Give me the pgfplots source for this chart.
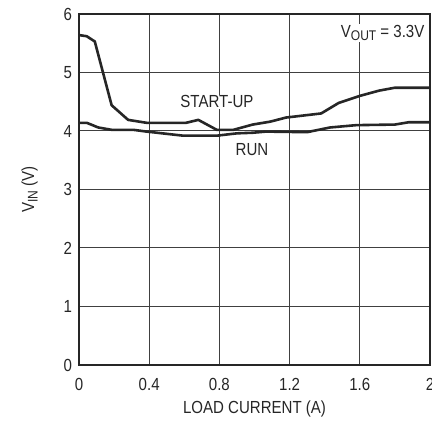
\documentclass[border=0pt]{standalone}
\usepackage{pgfplots}
\pgfplotsset{compat=1.18}
\usepackage{fontspec}
\setmainfont{Liberation Sans}[FakeStretch=0.86]
\newcommand{\fs}{\fontsize{17.5pt}{20pt}\selectfont}
\newcommand{\sub}[1]{\raisebox{-3.5pt}{\fontsize{14pt}{16pt}\selectfont #1}}
\begin{document}
\fs
\begin{tikzpicture}[x=1pt,y=1pt]
\begin{axis}[
  at={(0pt,0pt)}, anchor=south west,
  scale only axis, width=351pt, height=351pt,
  xmin=0, xmax=2, ymin=0, ymax=6,
  xtick={0,0.4,0.8,1.2,1.6,2}, ytick={0,1,2,3,4,5,6},
  xticklabels={0,0.4,0.8,1.2,1.6,2},
  yticklabels={0,1,2,3,4,5,6},
  grid=major,
  major grid style={line width=1pt, black!75},
  axis line style={line width=1.6pt, black!85},
  tick style={draw=none},
  tick label style={font=\fs, text=black!85},
  xticklabel style={yshift=-7pt},
  yticklabel style={xshift=-1pt},
  label style={font=\fs, text=black!85},
  xlabel={LOAD CURRENT (A)},
  ylabel={V\sub{IN} (V)},
  xlabel style={yshift=1pt},
  ylabel style={yshift=14pt},
  clip=false,
]
\addplot[line width=2.6pt, black!85, line join=round] coordinates {
 (0,5.64) (0.044,5.62) (0.09,5.53) (0.186,4.44) (0.28,4.19) (0.385,4.14)
 (0.61,4.14) (0.68,4.19) (0.785,4.02) (0.88,4.02) (0.99,4.11) (1.09,4.16)
 (1.18,4.23) (1.38,4.30) (1.48,4.48) (1.60,4.60) (1.71,4.69) (1.80,4.74) (2.0,4.74)
};
\addplot[line width=2.6pt, black!85, line join=round] coordinates {
 (0,4.14) (0.044,4.14) (0.11,4.06) (0.186,4.02) (0.31,4.02) (0.385,3.99)
 (0.594,3.92) (0.785,3.92) (0.90,3.96) (0.99,3.97) (1.065,3.99) (1.30,3.98)
 (1.43,4.06) (1.58,4.10) (1.80,4.11) (1.88,4.15) (2.0,4.15)
};
\node[font=\fs, text=black!85, fill=white, inner sep=1pt] at (axis cs:0.786,4.50) {START-UP};
\node[font=\fs, text=black!85] at (axis cs:0.986,3.675) {RUN};
\node[font=\fs, text=black!85, anchor=east, fill=white, inner sep=1pt] at (axis cs:1.975,5.68) {V\sub{OUT} = 3.3V};
\end{axis}
\pgfresetboundingbox
\path[use as bounding box] (-79pt,-57pt) rectangle (353pt,365pt);
\end{tikzpicture}
\end{document}
